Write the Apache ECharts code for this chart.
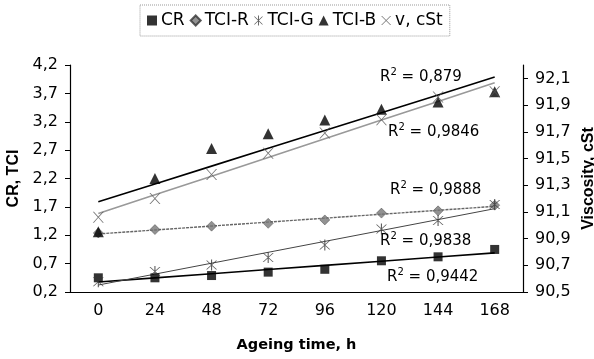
<!DOCTYPE html>
<html>
<head>
<meta charset="utf-8">
<script src="https://cdn.jsdelivr.net/npm/echarts@6/dist/echarts.min.js"></script>
<style>html,body{margin:0;padding:0;background:#fff}#c{width:594px;height:359px}</style>
</head>
<body>
<div id="c"></div>
<script>
var categories = ['0', '24', '48', '72', '96', '120', '144', '168'];
var cr   = [0.45, 0.45, 0.49, 0.55, 0.60, 0.75, 0.82, 0.95];
var tciR = [1.24, 1.30, 1.36, 1.41, 1.47, 1.59, 1.63, 1.73];
var tciG = [0.38, 0.56, 0.675, 0.81, 1.03, 1.31, 1.46, 1.74];
var tciB = [1.26, 2.20, 2.73, 2.99, 3.23, 3.42, 3.55, 3.73];
var visc = [91.06, 91.20, 91.38, 91.54, 91.69, 91.79, 91.96, 92.00];
var leftTicks = [0.2, 0.7, 1.2, 1.7, 2.2, 2.7, 3.2, 3.7, 4.2];
var rightTicks = [90.5, 90.7, 90.9, 91.1, 91.3, 91.5, 91.7, 91.9, 92.1];
var r2Labels = ['0,879', '0,9846', '0,9888', '0,9838', '0,9442'];

function trend(arr) {
  var n = arr.length, mx = (n - 1) / 2, my = 0, sxy = 0, sxx = 0;
  arr.forEach(function (v) { my += v; }); my /= n;
  arr.forEach(function (v, i) { sxy += (i - mx) * (v - my); sxx += (i - mx) * (i - mx); });
  var b = sxy / sxx, a = my - b * mx;
  return arr.map(function (v, i) { return a + b * i; });
}
function fmt(v) { return (Math.round(v * 10) / 10).toFixed(1).replace('.', ','); }

var asterisk = 'path://M0,0L2,0L10,8L18,0L20,0L11,9L20,18L18,18L10,10L2,18L0,18L9,9Z M9,-2L11,-2L11,20L9,20Z';
var xmark = 'path://M0,0L2,0L10,8L18,0L20,0L11,9L20,18L18,18L10,10L2,18L0,18L9,9Z';

var font = 'DejaVu Sans';
var chart = echarts.init(document.getElementById('c'));
function lineSeries(data, color, width, yi, type) {
  return { type: 'line', data: trend(data), yAxisIndex: yi || 0, symbol: 'none', silent: true,
    lineStyle: { color: color, width: width, type: type || 'solid' }, z: 2 };
}
function r2(text, x, y) {
  return { type: 'text', left: x, top: y, style: {
    text: '{r|R}{s|2}{r| = ' + text + '}',
    rich: { r: { fontFamily: font, fontSize: 15, fill: '#000' },
            s: { fontFamily: font, fontSize: 10, fill: '#000', padding: [0, 0, 10, 0] } } } };
}
chart.setOption({
  animation: false,
  textStyle: { fontFamily: font },
  legend: {
    data: ['CR', 'TCI-R', 'TCI-G', 'TCI-B', 'v, cSt'],
    top: 5, left: 140, itemWidth: 10, itemHeight: 10, itemGap: 5,
    padding: [7, 7, 7, 7],
    borderColor: '#999', borderWidth: 1, borderType: 'dotted',
    textStyle: { fontFamily: font, fontSize: 17, color: '#000', padding: [0, 0, 0, -1] }
  },
  grid: { left: 70, right: 71, top: 65, bottom: 67, outerBoundsMode: 'none', containLabel: false },
  xAxis: {
    type: 'category', data: categories, boundaryGap: true,
    axisLine: { lineStyle: { color: '#000', width: 1.2 } },
    axisTick: { length: 5, lineStyle: { color: '#000' } },
    axisLabel: { color: '#000', fontSize: 16, fontFamily: font, margin: 11 },
    name: 'Ageing time, h', nameLocation: 'middle', nameGap: 46,
    nameTextStyle: { fontFamily: font, fontWeight: 'bold', fontSize: 14.5, color: '#000' }
  },
  yAxis: [{
    type: 'value', min: 0.2, max: 4.2, interval: 0.5, position: 'left',
    splitLine: { show: false },
    axisLine: { show: true, lineStyle: { color: '#000', width: 1.2 } },
    axisTick: { show: true, length: 5, lineStyle: { color: '#000' }, customValues: leftTicks },
    axisLabel: { color: '#000', fontSize: 16, fontFamily: font, margin: 12, formatter: fmt, customValues: leftTicks },
    name: 'CR, TCI', nameLocation: 'middle', nameGap: 48, nameRotate: 90,
    nameTextStyle: { fontFamily: 'Liberation Sans', fontWeight: 'bold', fontSize: 16, color: '#000' }
  }, {
    type: 'value', min: 90.5, max: 92.2, interval: 0.2, position: 'right',
    splitLine: { show: false },
    axisLine: { show: true, lineStyle: { color: '#000', width: 1.2 } },
    axisTick: { show: true, length: 5, lineStyle: { color: '#000' }, customValues: rightTicks },
    axisLabel: { color: '#000', fontSize: 16, fontFamily: font, margin: 12, formatter: fmt, customValues: rightTicks },
    name: 'Viscosity, cSt', nameLocation: 'middle', nameGap: 58, nameRotate: 90, nameMoveOverlap: false,
    nameTextStyle: { fontFamily: 'Liberation Sans', fontWeight: 'bold', fontSize: 16, color: '#000' }
  }],
  series: [
    lineSeries(cr, '#000', 1.6),
    lineSeries(tciR, '#666', 1.4, 0, [3, 1]),
    lineSeries(tciG, '#444', 1),
    lineSeries(tciB, '#000', 1.6),
    lineSeries(visc, '#999', 1.6, 1),
    { name: 'CR', type: 'scatter', data: cr, symbol: 'rect', symbolSize: 9, itemStyle: { color: '#000' }, z: 3 },
    { name: 'TCI-R', type: 'scatter', data: tciR, symbol: 'diamond', symbolSize: 10, itemStyle: { color: '#777', borderColor: '#333', borderWidth: 0.5 }, z: 3 },
    { name: 'TCI-G', type: 'scatter', data: tciG, symbol: asterisk, symbolSize: 11, itemStyle: { color: '#333' }, z: 3 },
    { name: 'TCI-B', type: 'scatter', data: tciB, symbol: 'triangle', symbolSize: 11, itemStyle: { color: '#000' }, z: 3 },
    { name: 'v, cSt', type: 'scatter', data: visc, yAxisIndex: 1, symbol: xmark, symbolSize: 11, itemStyle: { color: '#555' }, z: 3 }
  ],
  graphic: [
    r2(r2Labels[0], 380, 67),
    r2(r2Labels[1], 388, 122),
    r2(r2Labels[2], 390, 180),
    r2(r2Labels[3], 380, 231),
    r2(r2Labels[4], 387, 267)
  ]
});
</script>
</body>
</html>
